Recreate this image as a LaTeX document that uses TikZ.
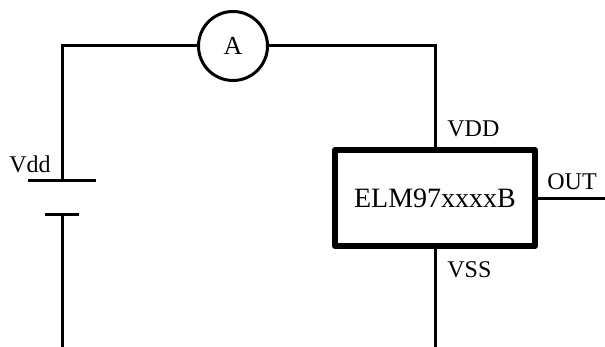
\documentclass[tikz,border=0pt]{standalone}
\usepackage{fontspec}
\setmainfont{Liberation Serif}
\usetikzlibrary{calc}
\tikzset{wire/.style={line width=1.5pt},
  pinlabel/.style={anchor=base west, inner sep=0pt, font=\fontsize{12}{14}\selectfont}}
\newcommand{\plate}[2]{ \draw[wire] ($(#1)+(-#2,0)$) -- ($(#1)+(#2,0)$);}

\begin{document}
\begin{tikzpicture}[x=0.5pt,y=-0.5pt]
\useasboundingbox (0,0) rectangle (605,347);
% meter and chip
\node[draw, circle, wire, minimum size=34.5pt, inner sep=0pt, font=\fontsize{13}{15}\selectfont] (amp) at (233,46) {A};
\node[draw, line width=3pt, line join=round, minimum width=100pt, minimum height=48pt, font=\fontsize{14}{16}\selectfont] (chip) at (435,198) {ELM97xxxxB};
% corners
\coordinate (tl) at (62,46);
\coordinate (tr) at (435,46);
\coordinate (bl) at (62,347);
\coordinate (br) at (435,347);
\coordinate (out) at (605,199);
% battery
\coordinate (pplus) at (62,181);
\coordinate (pminus) at (62,215);
\plate{pplus}{34}
\plate{pminus}{17}
% wires
\draw[wire] (amp) -- (tl) -- (pplus);
\draw[wire] (pminus) -- (bl);
\draw[wire] (amp) -- (tr) -- (chip.north);
\draw[wire] (chip.south) -- (br);
\draw[wire] (chip.east |- out) -- (out);
% labels
\node[pinlabel] (vdd) at (9,173) {Vdd};
\node[pinlabel] (pinvdd) at (447,137) {VDD};
\node[pinlabel] (pinvss) at (447,278) {VSS};
\node[pinlabel] (pinout) at (547,190) {OUT};
\end{tikzpicture}
\end{document}
